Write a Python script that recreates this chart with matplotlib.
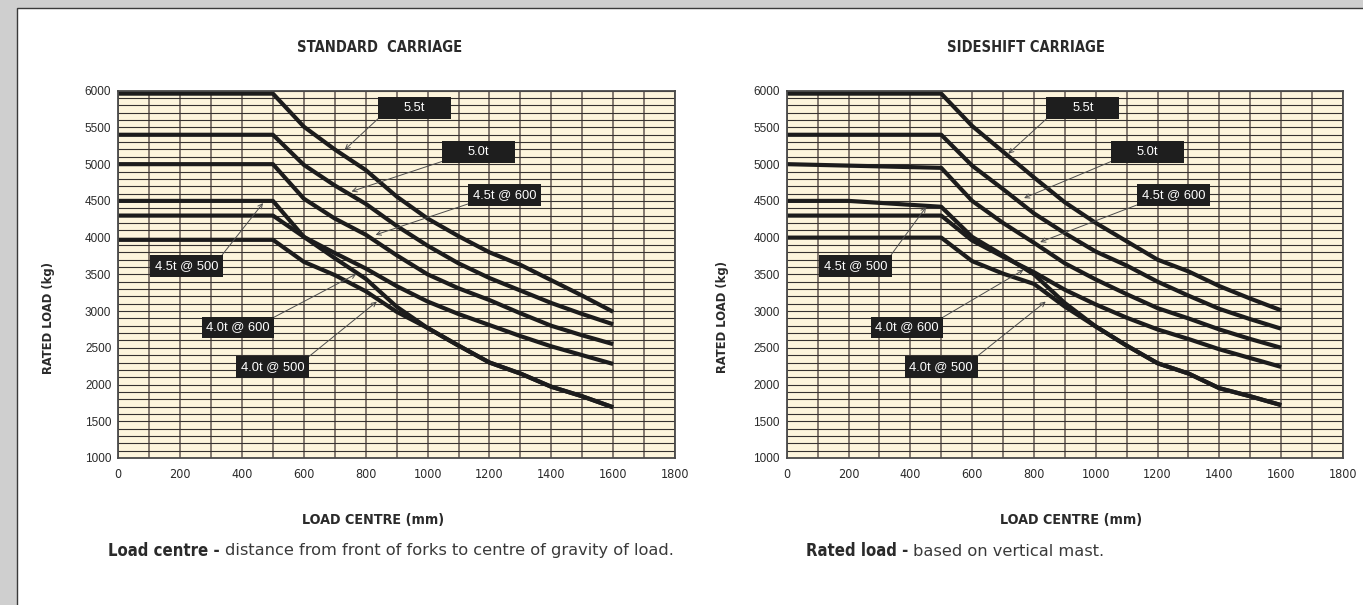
import matplotlib
matplotlib.use("Agg")
import matplotlib.pyplot as plt
from matplotlib.patches import Rectangle
import numpy as np

# ---------------- data ----------------
load_centre = [0, 500, 600, 700, 800, 900, 1000, 1100, 1200, 1300, 1400, 1500, 1600]
load_centre_ss45_500 = [0, 200, 500, 600, 700, 800, 900, 1000, 1100, 1200, 1300, 1400, 1500, 1600]

std_55 = [5960, 5960, 5510, 5200, 4920, 4560, 4260, 4020, 3800, 3630, 3420, 3210, 2990]
std_50 = [5400, 5400, 4990, 4710, 4460, 4160, 3890, 3650, 3450, 3280, 3110, 2960, 2820]
std_45_600 = [5000, 5000, 4530, 4260, 4040, 3760, 3500, 3310, 3150, 2970, 2800, 2670, 2550]
std_40_600 = [4300, 4300, 4010, 3790, 3580, 3340, 3130, 2960, 2810, 2660, 2520, 2400, 2280]
std_45_500 = [4500, 4500, 4010, 3720, 3440, 3060, 2770, 2530, 2300, 2150, 1970, 1840, 1690]
std_40_500 = [3970, 3970, 3670, 3490, 3270, 2990, 2770, 2530, 2300, 2150, 1970, 1840, 1690]

ss_55 = [5960, 5960, 5520, 5170, 4820, 4480, 4200, 3950, 3700, 3540, 3340, 3170, 3010]
ss_50 = [5400, 5400, 4980, 4660, 4330, 4060, 3810, 3620, 3400, 3210, 3030, 2890, 2760]
ss_45_600 = [5000, 4950, 4500, 4200, 3930, 3650, 3430, 3230, 3040, 2900, 2750, 2620, 2500]
ss_40_600 = [4300, 4300, 3960, 3740, 3530, 3290, 3090, 2910, 2750, 2620, 2480, 2360, 2240]
ss_45_500 = [4500, 4500, 4420, 4010, 3760, 3500, 3110, 2790, 2530, 2290, 2150, 1950, 1840, 1720]
ss_40_500 = [4000, 4000, 3680, 3510, 3370, 3060, 2790, 2530, 2290, 2150, 1950, 1840, 1720]

x_ticks = [0, 200, 400, 600, 800, 1000, 1200, 1400, 1600, 1800]
y_ticks = [1000, 1500, 2000, 2500, 3000, 3500, 4000, 4500, 5000, 5500, 6000]

labels = ["5.5t", "5.0t", "4.5t @ 600", "4.5t @ 500", "4.0t @ 600", "4.0t @ 500"]

# label box centres, arrow starts, arrow tips (data coordinates)
std_box = [(957, 5766), (1164, 5162), (1248, 4583), (220, 3618), (387, 2778), (499, 2242)]
std_from = [(840, 5619), (1047, 5037), (1132, 4460), (336, 3766), (487, 2880), (616, 2380)]
std_tip = [(732, 5196), (754, 4628), (832, 4038), (468, 4470), (770, 3507), (836, 3129)]

ss_box = [(958, 5766), (1167, 5162), (1251, 4583), (223, 3618), (389, 2778), (500, 2242)]
ss_from = [(841, 5619), (1050, 5037), (1135, 4447), (338, 3766), (491, 2880), (615, 2380)]
ss_tip = [(717, 5142), (768, 4538), (820, 3939), (451, 4416), (766, 3561), (838, 3129)]

# ---------------- style ----------------
W, H = 1363, 605
TXT = "#2a2a2a"
CREAM = "#fdf5dc"
COND = dict(family="DejaVu Sans", stretch="condensed")
REG = dict(family=["Liberation Sans", "DejaVu Sans"])

fig = plt.figure(figsize=(W / 100, H / 100), dpi=100)
fig.patch.set_facecolor("#cfcfcf")
panel = Rectangle((17 / W, -0.01), 1.0, (H - 8) / H + 0.01, transform=fig.transFigure,
                  facecolor="white", edgecolor="#3a3a3a", lw=1.0, zorder=-10)
fig.patches.append(panel)


def make_axes(left_px, right_px):
    top_px, bot_px = 90.7, 458.0
    ax = fig.add_axes([left_px / W, (H - bot_px) / H, (right_px - left_px) / W, (bot_px - top_px) / H])
    ax.set_facecolor(CREAM)
    ax.set_xlim(0, 1800)
    ax.set_ylim(1000, 6000)
    ax.set_xticks(x_ticks)
    ax.set_yticks(y_ticks)
    ax.set_xticks(np.arange(0, 1801, 100), minor=True)
    ax.set_yticks(np.arange(1000, 6001, 100), minor=True)
    ax.grid(which="both", axis="x", color="#7a7066", lw=1.3, zorder=1)
    ax.grid(which="both", axis="y", color="#363230", lw=0.8, zorder=1)
    ax.set_axisbelow(True)
    ax.tick_params(which="both", length=0)
    ax.tick_params(axis="x", pad=7, labelsize=9, colors=TXT)
    ax.tick_params(axis="y", pad=5, labelsize=8.5, colors=TXT)
    for lab in ax.get_xticklabels():
        lab.set_family("DejaVu Sans")
        lab.set_stretch("condensed")
    for lab in ax.get_yticklabels():
        lab.set_family(["Liberation Sans", "DejaVu Sans"])
    for s in ax.spines.values():
        s.set_color("#4a4a4a")
        s.set_linewidth(1.3)
        s.set_zorder(4)
    return ax


def draw(ax, curves, boxes, froms, tips):
    for xs, ys in curves:
        ax.plot(xs, ys, color="#1c1c1c", lw=3.0, solid_joinstyle="round",
                solid_capstyle="butt", zorder=3)
    bw, bh = 235, 296
    for lab, (cx, cy), st, tp in zip(labels, boxes, froms, tips):
        ax.annotate("", xy=tp, xytext=st,
                    arrowprops=dict(arrowstyle="->", color="#4d4d4d", lw=0.7,
                                    shrinkA=0, shrinkB=0, mutation_scale=8), zorder=6)
        ax.add_patch(Rectangle((cx - bw / 2, cy - bh / 2), bw, bh, facecolor="#1e1e1e",
                               edgecolor="none", zorder=7))
        ax.text(cx, cy, lab, color="white", ha="center", va="center", fontsize=9.3,
                zorder=8, **REG)
    ax.set_ylabel("RATED LOAD (kg)", fontweight="bold", fontsize=9.3,
                  color=TXT, labelpad=30, **COND)


ax1 = make_axes(118.3, 675.0)
ax2 = make_axes(786.7, 1343.0)

draw(ax1, [(load_centre, std_55), (load_centre, std_50), (load_centre, std_45_600),
           (load_centre, std_45_500), (load_centre, std_40_600), (load_centre, std_40_500)],
     std_box, std_from, std_tip)
draw(ax2, [(load_centre, ss_55), (load_centre, ss_50), (load_centre, ss_45_600),
           (load_centre_ss45_500, ss_45_500), (load_centre, ss_40_600), (load_centre, ss_40_500)],
     ss_box, ss_from, ss_tip)

ax1.yaxis.set_label_coords((55 - 118.3) / (675 - 118.3), 0.38)
ax2.yaxis.set_label_coords((729 - 786.7) / (1343 - 786.7), 0.385)

# titles and axis labels
fig.text(380 / W, 1 - 47 / H, "STANDARD  CARRIAGE", ha="center", va="center",
         fontweight="bold", fontsize=10.5, color=TXT, **COND)
fig.text(1026 / W, 1 - 47 / H, "SIDESHIFT CARRIAGE", ha="center", va="center",
         fontweight="bold", fontsize=10.5, color=TXT, **COND)
fig.text(373 / W, 1 - 520 / H, "LOAD CENTRE (mm)", ha="center", va="center",
         fontweight="bold", fontsize=10.3, color=TXT, **COND)
fig.text(1071.5 / W, 1 - 520 / H, "LOAD CENTRE (mm)", ha="center", va="center",
         fontweight="bold", fontsize=10.3, color=TXT, **COND)

renderer = fig.canvas.get_renderer()


def two_part(x_px, y_px, bold, rest):
    t1 = fig.text(x_px / W, 1 - y_px / H, bold, ha="left", va="center",
                  fontweight="bold", fontsize=12, color=TXT, **COND)
    bb = t1.get_window_extent(renderer=renderer)
    fig.text((bb.x1 + 5) / W, 1 - y_px / H, rest, ha="left", va="center",
             fontsize=11.7, color="#3a3a3a", family="DejaVu Sans")


two_part(108, 551, "Load centre -", "distance from front of forks to centre of gravity of load.")
two_part(806, 551, "Rated load -", "based on vertical mast.")

fig.savefig("out.png", dpi=100, facecolor=fig.get_facecolor())
